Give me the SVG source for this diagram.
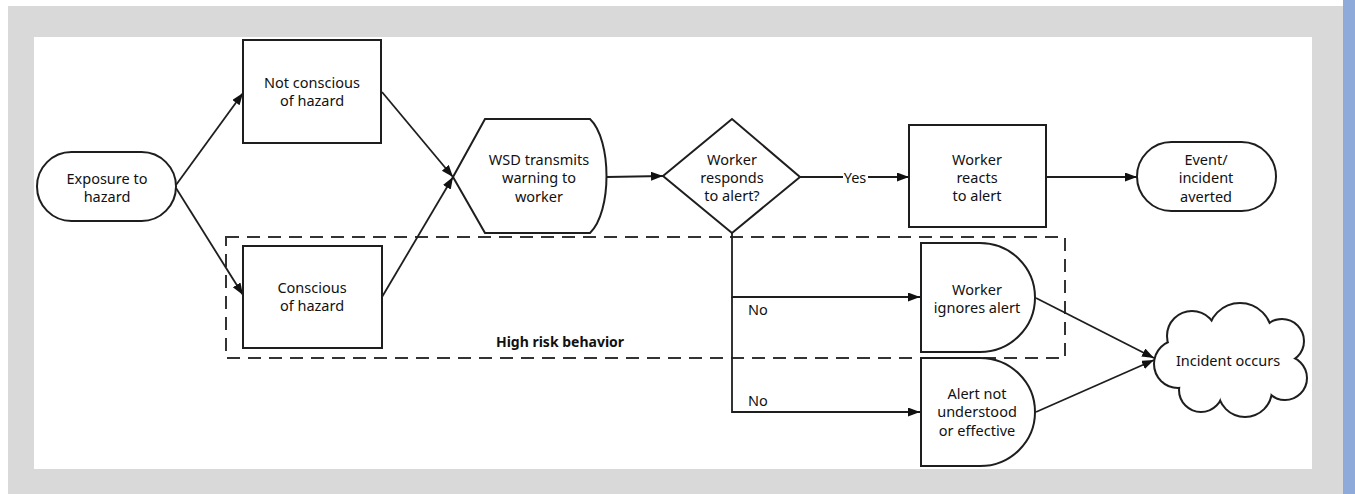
<svg xmlns="http://www.w3.org/2000/svg" width="1355" height="494" viewBox="0 0 1355 494">
<style>
.bg{fill:#d9d9d9}
.shape{fill:#fff;stroke:#1e1e1e;stroke-width:2}
.conn{fill:none;stroke:#1e1e1e;stroke-width:1.8}
.lbl{font-family:"Noto Sans","Open Sans","Liberation Sans",sans-serif;font-size:14.5px;fill:#111;text-anchor:middle;dominant-baseline:central}
.lft{text-anchor:start}
.bold{font-weight:bold;font-size:14px}
.dash{fill:none;stroke:#333;stroke-width:2;stroke-dasharray:13 8}
</style>
<defs>
<marker id="arr" markerUnits="userSpaceOnUse" markerWidth="13" markerHeight="10" refX="12" refY="4.5" orient="auto">
<path d="M0,0 L12,4.5 L0,9 Z" fill="#111"/>
</marker>
</defs>
<rect x="0" y="0" width="1355" height="494" fill="#fff"/>
<rect class="bg" x="8" y="6" width="1335" height="488"/>
<rect x="1343" y="0" width="12" height="494" fill="#8eaadb"/>
<rect x="34" y="37" width="1278" height="432" fill="#fff"/>

<g id="high-risk-group">
<rect class="dash" x="226" y="237" width="839" height="121"/>
<text class="lbl bold" x="560" y="341">High risk behavior</text>
</g>

<g id="connectors">
<path class="conn" d="M176,185 L243,93" marker-end="url(#arr)"/>
<path class="conn" d="M176,188 L243,295" marker-end="url(#arr)"/>
<path class="conn" d="M382,92 L453,177" marker-end="url(#arr)"/>
<path class="conn" d="M382,297 L453,177" marker-end="url(#arr)"/>
<path class="conn" d="M607,177 L663,176" marker-end="url(#arr)"/>
<path class="conn" d="M800,177 L843,177"/>
<path class="conn" d="M868,177 L909,177" marker-end="url(#arr)"/>
<path class="conn" d="M1046,177 L1137,177" marker-end="url(#arr)"/>
<path class="conn" d="M732,233 L732,297 L920,297" marker-end="url(#arr)"/>
<path class="conn" d="M732,297 L732,412 L920,412" marker-end="url(#arr)"/>
<path class="conn" d="M1036,298 L1154,358" marker-end="url(#arr)"/>
<path class="conn" d="M1036,412 L1154,360" marker-end="url(#arr)"/>
<text class="lbl" x="855" y="177">Yes</text>
<text class="lbl lft" x="748" y="309">No</text>
<text class="lbl lft" x="748" y="400">No</text>
</g>

<g id="exposure">
<rect class="shape" x="37" y="152" width="139" height="69" rx="34.5" ry="34.5"/>
<text class="lbl" x="107" y="178">Exposure to</text>
<text class="lbl" x="107" y="196">hazard</text>
</g>

<g id="not-conscious">
<rect class="shape" x="243" y="40" width="138" height="103"/>
<text class="lbl" x="312" y="82">Not conscious</text>
<text class="lbl" x="312" y="100">of hazard</text>
</g>

<g id="conscious">
<rect class="shape" x="243" y="246" width="139" height="102"/>
<text class="lbl" x="312" y="287">Conscious</text>
<text class="lbl" x="312" y="305">of hazard</text>
</g>

<g id="wsd">
<path class="shape" d="M453,177 L485,119 L590,119 C612,140 612,212 590,233 L485,233 Z"/>
<text class="lbl" x="539" y="159">WSD transmits</text>
<text class="lbl" x="539" y="177">warning to</text>
<text class="lbl" x="539" y="196">worker</text>
</g>

<g id="decision">
<path class="shape" d="M663,176 L732,119 L800,177 L732,233 Z"/>
<text class="lbl" x="732" y="159">Worker</text>
<text class="lbl" x="732" y="177">responds</text>
<text class="lbl" x="732" y="195">to alert?</text>
</g>

<g id="reacts">
<rect class="shape" x="909" y="125" width="137" height="102"/>
<text class="lbl" x="977" y="159">Worker</text>
<text class="lbl" x="977" y="177">reacts</text>
<text class="lbl" x="977" y="195">to alert</text>
</g>

<g id="averted">
<rect class="shape" x="1137" y="142" width="139" height="69" rx="34.5" ry="34.5"/>
<text class="lbl" x="1206" y="159">Event/</text>
<text class="lbl" x="1206" y="177">incident</text>
<text class="lbl" x="1206" y="196">averted</text>
</g>

<g id="ignores">
<path class="shape" d="M921,243 L980,243 A55,54.5 0 0 1 980,352 L921,352 Z"/>
<text class="lbl" x="977" y="289">Worker</text>
<text class="lbl" x="977" y="307">ignores alert</text>
</g>

<g id="not-understood">
<path class="shape" d="M921,358 L980,358 A55,54 0 0 1 980,466 L921,466 Z"/>
<text class="lbl" x="977" y="393">Alert not</text>
<text class="lbl" x="977" y="411">understood</text>
<text class="lbl" x="977" y="430">or effective</text>
</g>

<g id="incident">
<g fill="#1e1e1e" stroke="#1e1e1e" stroke-width="4">
<circle cx="1240" cy="335" r="31"/>
<circle cx="1282" cy="341" r="21"/>
<circle cx="1285" cy="378" r="21"/>
<circle cx="1245" cy="390" r="26"/>
<circle cx="1201" cy="390" r="21"/>
<circle cx="1178" cy="364" r="23"/>
<circle cx="1192" cy="336" r="24"/>
<circle cx="1235" cy="362" r="38"/>
</g>
<g fill="#fff">
<circle cx="1240" cy="335" r="31"/>
<circle cx="1282" cy="341" r="21"/>
<circle cx="1285" cy="378" r="21"/>
<circle cx="1245" cy="390" r="26"/>
<circle cx="1201" cy="390" r="21"/>
<circle cx="1178" cy="364" r="23"/>
<circle cx="1192" cy="336" r="24"/>
<circle cx="1235" cy="362" r="38"/>
</g>
<text class="lbl" x="1228" y="360">Incident occurs</text>
</g>
</svg>
